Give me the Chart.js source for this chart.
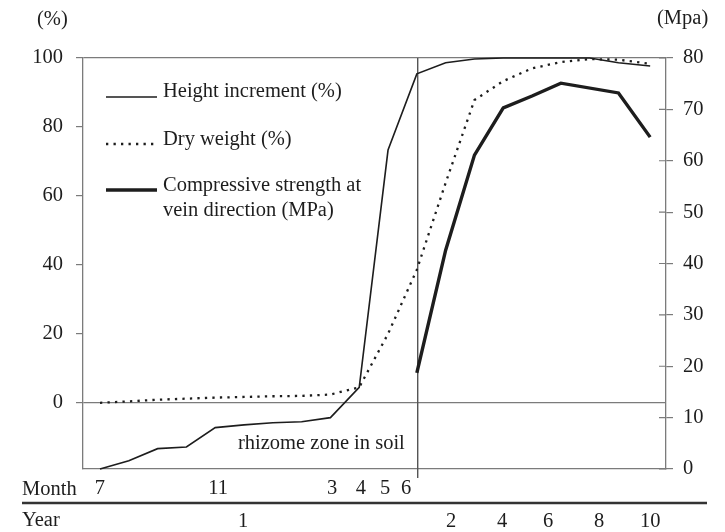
<!DOCTYPE html>
<html><head><meta charset="utf-8">
<script src="https://cdn.jsdelivr.net/npm/chart.js@4.4.1/dist/chart.umd.min.js"></script>
<style>html,body{margin:0;padding:0;background:#fff;}#wrap{width:725px;height:532px;position:relative;}</style>
</head><body><div id="wrap"><canvas id="c" width="725" height="532"></canvas></div>
<script>
// x unit: months counted from July of year 1 (7 -> 0)
const heightX = [0,1,2,3,4,5,6,7,8,9,10,11,12,13,14,15,16,17,18,19.1];
const heightVals = [-19.2,-16.8,-13.3,-12.8,-7.2,-6.4,-5.8,-5.5,-4.3,4.5,73.3,95.4,98.6,99.7,100,100,100,100,98.6,97.7];
const dryX = [0,1,2,3,4,5,6,7,8,9,10,11,12,13,14,15,16,17,18,19.1];
const dryVals = [0,0.4,0.9,1.2,1.5,1.7,1.9,2.0,2.4,4.5,20,38.6,63.8,87.8,93.3,97,98.8,99.7,99.5,98.3];
const strengthX = [11,12,13,14,15,16,18,19.1];
const strengthVals = [18.7,42.6,61.1,70.3,72.6,75.1,73.2,64.6];

const monthTickPos = [0,4.1,8.06,9.06,9.9,10.63];
const monthTickLabels = ['7','11','3','4','5','6'];
const yearTickPos = [4.97,12.19,13.96,15.56,17.33,19.1];
const yearTickLabels = ['1','2','4','6','8','10'];
const leftTicks = [0,20,40,60,80,100];
const rightTicks = [0,10,20,30,40,50,60,70,80];
const dividerX = 11.03;

const seriesNames = ['Height increment (%)','Dry weight (%)',['Compressive strength at','vein direction (MPa)']];

const AXIS = '#7b7b7b';
const INK = '#1d1d1d';
const FONT = 'Liberation Serif, Times New Roman, serif';
const FS = 20.5;

Chart.defaults.font.family = FONT;
Chart.defaults.font.size = FS;
Chart.defaults.color = INK;

const toPts = (xs, ys) => xs.map((x,i)=>({x, y: ys[i]}));

const decor = {
  id: 'decor',
  beforeDatasetsDraw(chart) {
    const {ctx, chartArea, scales} = chart;
    ctx.save();
    ctx.strokeStyle = '#555';
    ctx.lineWidth = 1.4;
    const vx = scales.x.getPixelForValue(dividerX);
    ctx.beginPath();
    ctx.moveTo(vx, chartArea.top);
    ctx.lineTo(vx, chartArea.bottom + 9);
    ctx.stroke();
    ctx.strokeStyle = AXIS;
    ctx.lineWidth = 1.2;
    ctx.beginPath();
    scales.y2.ticks.forEach(t => {
      const y = scales.y2.getPixelForValue(t.value);
      ctx.moveTo(chartArea.right - 7, y);
      ctx.lineTo(chartArea.right, y);
    });
    ctx.stroke();
    ctx.restore();
  },
  afterDraw(chart) {
    const {ctx, scales} = chart;
    ctx.save();
    ctx.fillStyle = INK;
    ctx.font = FS + 'px ' + FONT;
    ctx.textBaseline = 'alphabetic';
    ctx.textAlign = 'left';
    ctx.fillText('(%)', 37, 25);
    ctx.fillText('(Mpa)', 657, 24);
    ctx.fillText('Month', 22, 495);
    ctx.fillText('Year', 22, 526);
    ctx.fillText('rhizome zone in soil', 238, 449);
    // separator between rows
    const sy = scales.x.bottom;
    ctx.strokeStyle = '#333';
    ctx.lineWidth = 2.4;
    ctx.beginPath(); ctx.moveTo(22, sy); ctx.lineTo(707, sy); ctx.stroke();
    // legend
    const rows = [[97,97],[144,145],[190,191]];
    chart.data.datasets.forEach((ds, i) => {
      ctx.save();
      ctx.strokeStyle = ds.borderColor;
      ctx.lineWidth = ds.borderWidth;
      ctx.setLineDash(ds.borderDash || []);
      ctx.beginPath();
      ctx.moveTo(106, rows[i][0]); ctx.lineTo(157, rows[i][0]);
      ctx.stroke();
      ctx.restore();
      const name = seriesNames[i];
      if (Array.isArray(name)) {
        name.forEach((t, k) => ctx.fillText(t, 163, rows[i][1] + k * 25));
      } else {
        ctx.fillText(name, 163, rows[i][1]);
      }
    });
    ctx.restore();
  }
};

new Chart(document.getElementById('c'), {
  type: 'line',
  data: {
    datasets: [
      { label: 'Height increment (%)', data: toPts(heightX, heightVals), yAxisID: 'y', xAxisID: 'x',
        borderColor: INK, borderWidth: 1.6, pointRadius: 0, tension: 0, fill: false, clip: false },
      { label: 'Dry weight (%)', data: toPts(dryX, dryVals), yAxisID: 'y', xAxisID: 'x',
        borderColor: INK, borderWidth: 2.3, borderDash: [2.3, 5.2], pointRadius: 0, tension: 0, fill: false, clip: false },
      { label: 'Compressive strength at vein direction (MPa)', data: toPts(strengthX, strengthVals), yAxisID: 'y2', xAxisID: 'x',
        borderColor: INK, borderWidth: 3.4, pointRadius: 0, tension: 0, fill: false, clip: false }
    ]
  },
  options: {
    responsive: false,
    animation: false,
    events: [],
    layout: { padding: { top: 58, left: 0, right: 0, bottom: 0 } },
    plugins: { legend: { display: false }, tooltip: { enabled: false } },
    scales: {
      x: {
        type: 'linear', position: 'bottom', weight: 0,
        min: -0.59, max: 19.65,
        grid: { display: false, drawTicks: false },
        border: { display: true, color: AXIS, width: 1.3 },
        afterBuildTicks: s => { s.ticks = monthTickPos.map(v => ({ value: v })); },
        afterFit: s => { s.height = 34; },
        ticks: { autoSkip: false, maxRotation: 0, padding: 7, color: INK,
          callback: (v, i) => monthTickLabels[i] }
      },
      x2: {
        type: 'linear', position: 'bottom', weight: 1,
        min: -0.59, max: 19.65,
        grid: { display: false, drawTicks: false },
        border: { display: false },
        afterBuildTicks: s => { s.ticks = yearTickPos.map(v => ({ value: v })); },
        afterFit: s => { s.height = 29; },
        ticks: { autoSkip: false, maxRotation: 0, padding: 6, color: INK,
          callback: (v, i) => yearTickLabels[i] }
      },
      y: {
        type: 'linear', position: 'left',
        min: -19.2, max: 100,
        afterBuildTicks: s => { s.ticks = leftTicks.map(v => ({ value: v })); },
        afterFit: s => { s.width = 83; },
        grid: {
          drawOnChartArea: true, drawTicks: true, tickLength: 7, lineWidth: 1.2,
          color: c => (c.tick && (c.tick.value === 0 || c.tick.value === 100)) ? AXIS : 'rgba(0,0,0,0)',
          tickColor: AXIS
        },
        border: { display: true, color: AXIS, width: 1.3 },
        ticks: { padding: 13, color: INK }
      },
      y2: {
        type: 'linear', position: 'right',
        min: 0, max: 80,
        afterBuildTicks: s => { s.ticks = rightTicks.map(v => ({ value: v })); },
        afterFit: s => { s.width = 59; },
        grid: { drawOnChartArea: false, drawTicks: true, tickLength: 7, lineWidth: 1.2, color: AXIS, tickColor: AXIS },
        border: { display: true, color: AXIS, width: 1.3 },
        ticks: { padding: 10, color: INK }
      }
    }
  },
  plugins: [decor]
});
</script>
</body></html>
